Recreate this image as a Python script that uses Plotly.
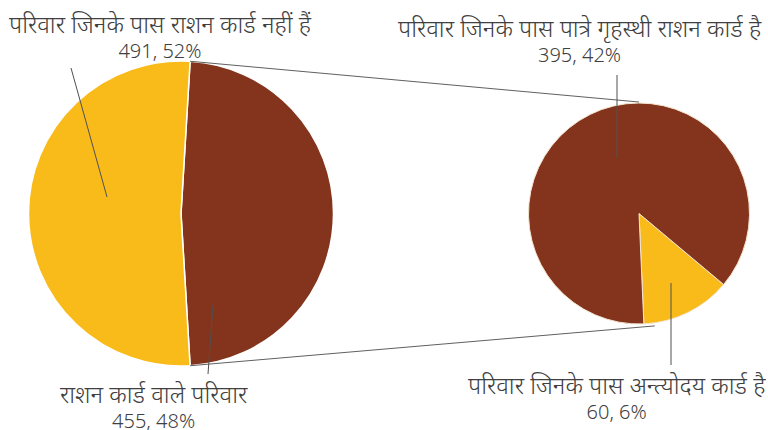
import math
import plotly.graph_objects as go

# Households: primary split and breakdown of the ration-card holders
main_labels = ["राशन कार्ड वाले परिवार", "परिवार जिनके पास राशन कार्ड नहीं हैं"]
main_values = [455, 491]
sub_labels = ["परिवार जिनके पास अन्त्योदय कार्ड है", "परिवार जिनके पास पात्रे गृहस्थी राशन कार्ड है"]
sub_values = [60, 395]

BROWN = "#84341C"
GOLD = "#F8BB19"
TEXT = "#404040"
W, H = 768, 430

total = sum(main_values)

# pie geometry in pixels (centre x, centre y, radius)
L_CX, L_CY, L_R = 181, 213.5, 152.5
R_CX, R_CY, R_R = 639, 213.5, 110.5


def dom(cx, cy, r):
    return dict(x=[(cx - r) / W, (cx + r) / W], y=[1 - (cy + r) / H, 1 - (cy - r) / H])


def pt(cx, cy, r, ang):
    a = math.radians(ang)
    return cx + r * math.sin(a), cy - r * math.cos(a)


# split slice is centred on the right-hand side of the main pie
split_span = main_values[0] / total * 360
main_rot = (180 - split_span) / 2
sub_rot = 130

fig = go.Figure()
fig.add_trace(go.Pie(
    values=main_values, labels=main_labels, sort=False, direction="clockwise",
    rotation=main_rot, domain=dom(L_CX, L_CY, L_R), textinfo="none",
    marker=dict(colors=[BROWN, GOLD], line=dict(color="white", width=1.5)),
    showlegend=False, hoverinfo="label+value+percent",
))
fig.add_trace(go.Pie(
    values=sub_values, labels=sub_labels, sort=False, direction="clockwise",
    rotation=sub_rot, domain=dom(R_CX, R_CY, R_R), textinfo="none",
    marker=dict(colors=[GOLD, BROWN], line=dict(color="#f3e6d0", width=1)),
    showlegend=False, hoverinfo="label+value+percent",
))

shapes = []


def seg(x0, y0, x1, y1, color, width=1):
    shapes.append(dict(type="line", xref="paper", yref="paper",
                       x0=x0 / W, y0=1 - y0 / H, x1=x1 / W, y1=1 - y1 / H,
                       line=dict(color=color, width=width)))


# connectors from split slice edges to the breakdown pie
tx0, ty0 = pt(L_CX, L_CY, L_R, main_rot)
bx0, by0 = pt(L_CX, L_CY, L_R, 180 - main_rot)
tx1, ty1 = pt(R_CX, R_CY, R_R + 1, 0)
bx1, by1 = pt(R_CX, R_CY, R_R + 3, 172)
seg(tx0, ty0, tx1, ty1, "#606060")
seg(bx0, by0, bx1, by1, "#606060")

# leader lines from labels into slices
LEAD = "#505050"
seg(71, 68, 107, 197, LEAD)
seg(208, 374, 213, 305, LEAD)
seg(617, 75, 617, 158, LEAD)
seg(671, 365, 671, 283, LEAD)

fig.update_layout(shapes=shapes)

FONT = "Noto Sans, Open Sans, sans-serif"


def label(name, value, cx, cy):
    pct = round(value / total * 100)
    text = (f"<span style='font-size:24px'>{name}</span><br>"
            f"<span style='font-size:20px'>{value}, {pct}%</span>")
    fig.add_annotation(xref="paper", yref="paper", x=cx / W, y=1 - cy / H,
                       xanchor="center", yanchor="middle", showarrow=False,
                       text=text, align="center",
                       font=dict(size=19, color=TEXT, weight=300, family=FONT))


label(main_labels[1], main_values[1], 160, 35)
label(main_labels[0], main_values[0], 154, 405)
label(sub_labels[1], sub_values[1], 580, 39)
label(sub_labels[0], sub_values[0], 617, 396)

fig.update_layout(
    width=W, height=H, autosize=False,
    margin=dict(l=0, r=0, t=0, b=0),
    paper_bgcolor="white", plot_bgcolor="white",
)

fig.write_html("out.html")
